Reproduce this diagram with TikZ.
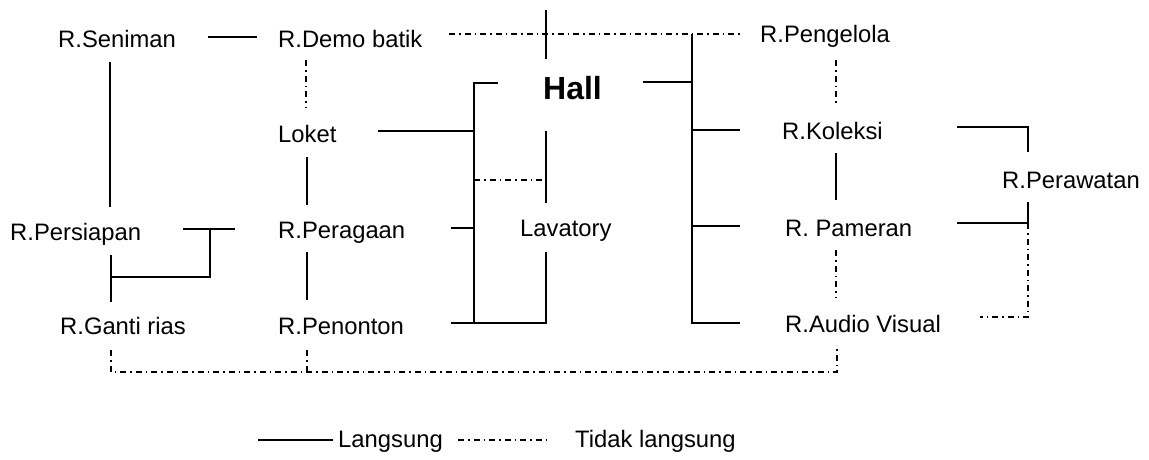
\documentclass[tikz,border=0pt]{standalone}
\usepackage{fontspec}
\setmainfont{Liberation Sans}
\begin{document}
\begin{tikzpicture}[x=1pt,y=-1pt,
  lbl/.style={anchor=base west, inner sep=0pt, font=\fontsize{23.8}{28}\selectfont},
  hallbl/.style={anchor=base west, inner sep=0pt, font=\fontsize{32}{38}\selectfont\bfseries},
  direct/.style={line width=1.5pt},
  indirect/.style={line width=1.5pt, dash pattern=on 6pt off 4pt on 1.5pt off 4pt}]
\useasboundingbox (0,0) rectangle (1149,459);
% labels
\node[lbl] (sen) at (58,47) {R.Seniman};
\node[lbl] (demo) at (278,47) {R.Demo batik};
\node[lbl] (peng) at (760,42) {R.Pengelola};
\node[hallbl] (hall) at (543,99) {Hall};
\node[lbl] (lok) at (278,142) {Loket};
\node[lbl] (kol) at (782,139) {R.Koleksi};
\node[lbl] (raw) at (1002,188) {R.Perawatan};
\node[lbl] (pers) at (10,240) {R.Persiapan};
\node[lbl] (prg) at (278,238) {R.Peragaan};
\node[lbl] (lav) at (520,236) {Lavatory};
\node[lbl] (pam) at (785,236) {R. Pameran};
\node[lbl] (gan) at (60,334) {R.Ganti rias};
\node[lbl] (pen) at (278,334) {R.Penonton};
\node[lbl] (av) at (785,332) {R.Audio Visual};
\node[lbl] (lgA) at (338,447) {Langsung};
\node[lbl] (lgB) at (575,447) {Tidak langsung};
% connector end points
\coordinate (senE) at (208,37);  \coordinate (demoW) at (257,37);
\coordinate (senS) at (110,62);  \coordinate (persN) at (110,207);
\coordinate (persE) at (183,229); \coordinate (persT) at (235,229);
\coordinate (persJ) at (210,229); \coordinate (persK) at (210,277);
\coordinate (ganK) at (111,277);
\coordinate (persS) at (111,255); \coordinate (ganN) at (111,302);
\coordinate (lokS) at (307,157); \coordinate (prgN) at (307,205);
\coordinate (prgS) at (307,252); \coordinate (penN) at (307,300);
\coordinate (lokE) at (378,131); \coordinate (lbB) at (474,131);
\coordinate (hallW) at (498,83); \coordinate (lbT) at (474,83); \coordinate (lbD) at (474,323);
\coordinate (prgE) at (451,228); \coordinate (lbP) at (474,228);
\coordinate (penE) at (451,323); \coordinate (lavD) at (546,323); \coordinate (lavS) at (546,252);
\coordinate (hallS) at (546,131); \coordinate (lavN) at (546,203);
\coordinate (topA) at (546,10); \coordinate (topB) at (546,59);
\coordinate (hallE) at (643,82); \coordinate (rbH) at (692,82);
\coordinate (rbT) at (692,34); \coordinate (rbD) at (692,323);
\coordinate (rbK) at (692,130); \coordinate (kolW) at (740,130);
\coordinate (rbP) at (692,226); \coordinate (pamW) at (740,226);
\coordinate (avW) at (740,323);
\coordinate (kolS) at (836,153); \coordinate (pamN) at (836,200);
\coordinate (kolE) at (957,127); \coordinate (rwK) at (1028,127); \coordinate (rawN) at (1028,152);
\coordinate (pamE) at (957,223); \coordinate (rwP) at (1028,223); \coordinate (rawS) at (1028,202);
\coordinate (demoE) at (449,34); \coordinate (pengW) at (740,34);
\coordinate (demoS) at (306,60); \coordinate (lokN) at (306,108);
\coordinate (lbL) at (474,180); \coordinate (lavL) at (546,180);
\coordinate (pengS) at (836,60); \coordinate (kolN) at (836,105);
\coordinate (pamS) at (836,250); \coordinate (avN) at (836,297);
\coordinate (rwA) at (1028,317); \coordinate (avE) at (980,317);
\coordinate (ganS) at (111,350); \coordinate (ganB) at (111,372);
\coordinate (avB) at (837,372); \coordinate (avS) at (837,345);
\coordinate (penS) at (307,350); \coordinate (penB) at (307,372);
\coordinate (lgA1) at (258,440); \coordinate (lgA2) at (333,440);
\coordinate (lgB1) at (458,440); \coordinate (lgB2) at (548,440);
% direct (solid) connections
\draw[direct] (senE) -- (demoW);
\draw[direct] (senS) -- (persN);
\draw[direct] (persE) -- (persT);
\draw[direct] (persJ) -- (persK) -- (ganK);
\draw[direct] (persS) -- (ganN);
\draw[direct] (lokS) -- (prgN);
\draw[direct] (prgS) -- (penN);
\draw[direct] (lokE) -- (lbB);
\draw[direct] (hallW) -- (lbT) -- (lbD);
\draw[direct] (prgE) -- (lbP);
\draw[direct] (penE) -- (lavD) -- (lavS);
\draw[direct] (hallS) -- (lavN);
\draw[direct] (topA) -- (topB);
\draw[direct] (hallE) -- (rbH);
\draw[direct] (rbT) -- (rbD) -- (avW);
\draw[direct] (rbK) -- (kolW);
\draw[direct] (rbP) -- (pamW);
\draw[direct] (kolS) -- (pamN);
\draw[direct] (kolE) -- (rwK) -- (rawN);
\draw[direct] (pamE) -- (rwP);
\draw[direct] (rawS) -- (rwP);
% indirect (dash-dot) connections
\draw[indirect] (demoE) -- (pengW);
\draw[indirect] (demoS) -- (lokN);
\draw[indirect] (lbL) -- (lavL);
\draw[indirect] (pengS) -- (kolN);
\draw[indirect] (pamS) -- (avN);
\draw[indirect] (rwP) -- (rwA) -- (avE);
\draw[indirect] (ganS) -- (ganB) -- (avB) -- (avS);
\draw[indirect] (penS) -- (penB);
% legend
\draw[direct] (lgA1) -- (lgA2);
\draw[indirect] (lgB1) -- (lgB2);
\end{tikzpicture}
\end{document}
